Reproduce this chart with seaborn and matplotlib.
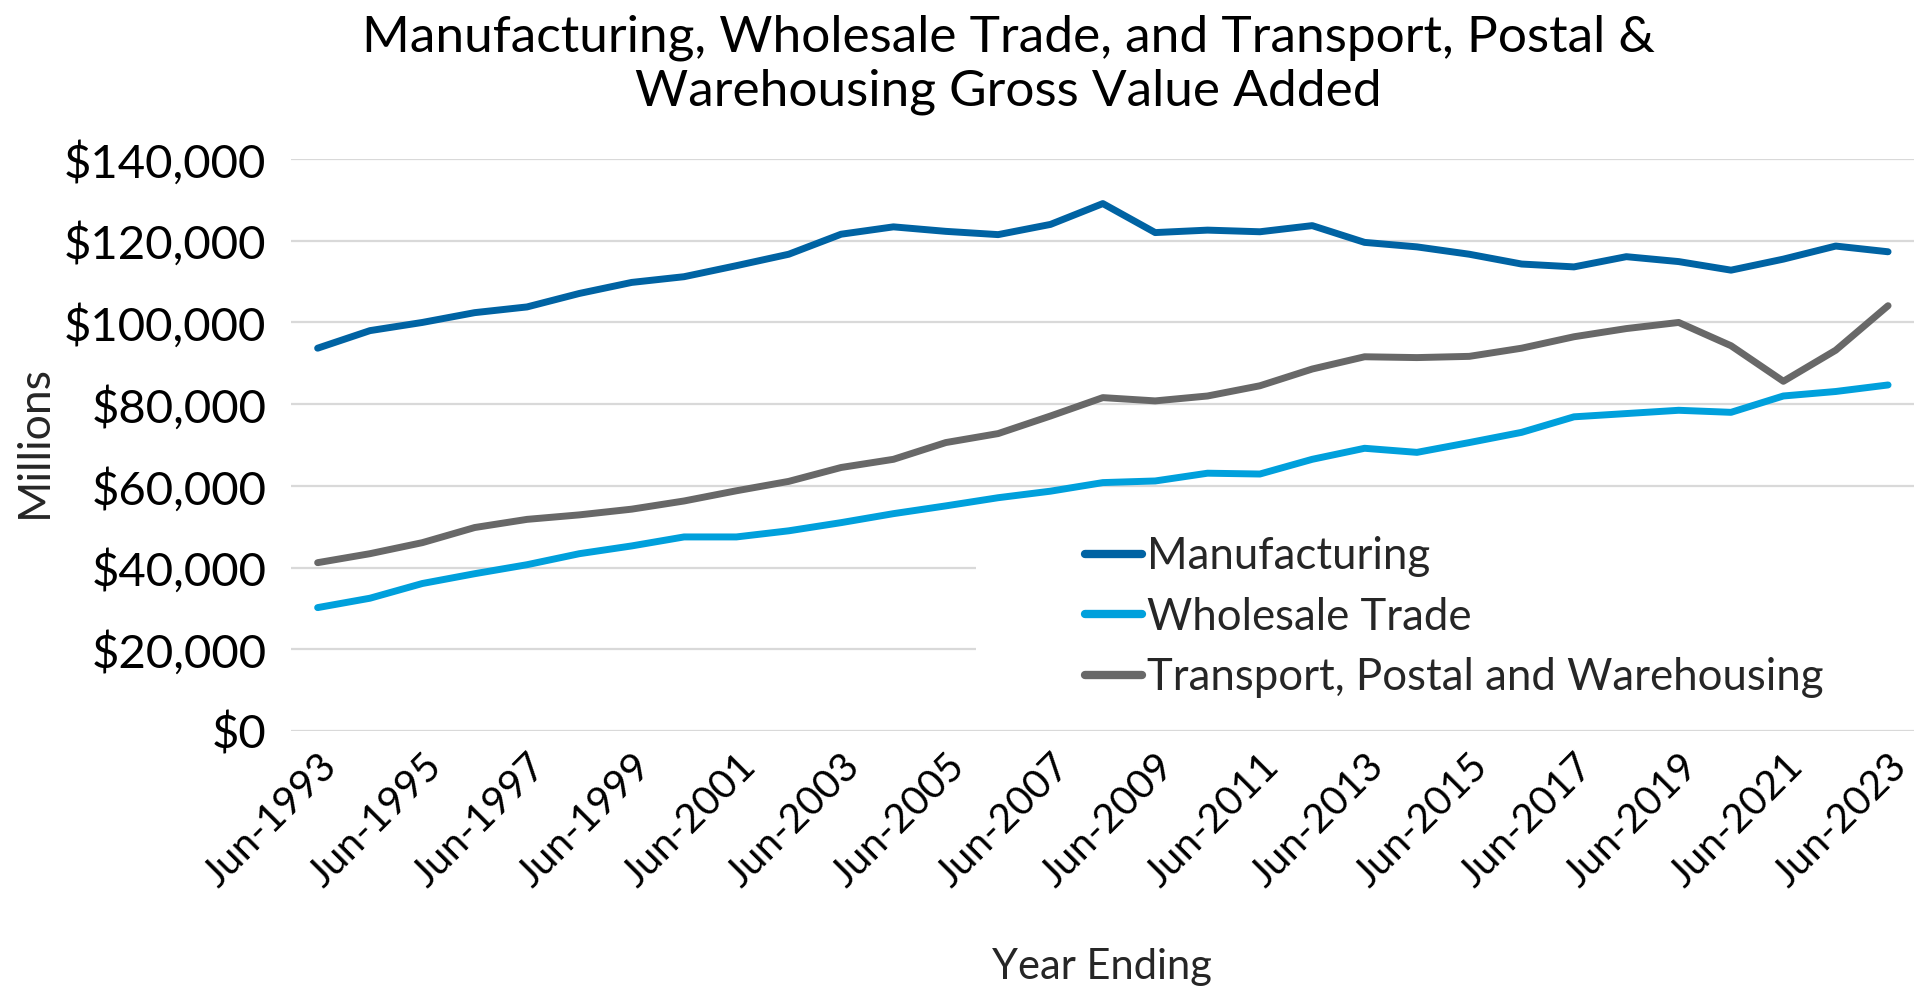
import matplotlib
matplotlib.use("Agg")
import matplotlib.pyplot as plt
import matplotlib.ticker as mticker
from matplotlib.patches import Rectangle
import seaborn as sns
import pandas as pd

years = list(range(1993, 2024))
manufacturing = [93700, 98000, 100000, 102400, 103800, 107100, 109800, 111200, 113900, 116700,
                 121600, 123400, 122300, 121500, 124000, 129100, 122000, 122600, 122200, 123700,
                 119600, 118500, 116700, 114300, 113600, 116100, 114900, 112800, 115500, 118700, 117300]
wholesale = [30200, 32500, 36100, 38500, 40700, 43400, 45300, 47500, 47500, 49000,
             51000, 53200, 55100, 57100, 58700, 60800, 61200, 63100, 62900, 66500,
             69200, 68200, 70600, 73100, 76900, 77700, 78500, 78000, 82000, 83100, 84700]
transport = [41200, 43400, 46100, 49800, 51800, 52900, 54300, 56300, 58800, 61100,
             64500, 66500, 70600, 72800, 77100, 81600, 80800, 82000, 84500, 88600,
             91600, 91400, 91700, 93700, 96500, 98500, 100000, 94300, 85600, 93200, 104100]
series_names = ["Manufacturing", "Wholesale Trade", "Transport, Postal and Warehousing"]
colors = ["#0063A3", "#00A0DC", "#686868"]
tick_years = list(range(1993, 2024, 2))
tick_labels = [f"Jun-{y}" for y in tick_years]
title = "Manufacturing, Wholesale Trade, and Transport, Postal &\nWarehousing Gross Value Added"

sns.set_theme(style="white")
plt.rcParams["font.family"] = ["Lato", "DejaVu Sans"]

df = pd.DataFrame({
    "idx": list(range(len(years))) * 3,
    "value": manufacturing + wholesale + transport,
    "series": sum([[n] * len(years) for n in series_names], []),
})

fig = plt.figure(figsize=(19.2, 9.94), dpi=100)
ax = fig.add_axes([0.1518, 0.2646, 0.997 - 0.1518, 0.840 - 0.2646])
ax.set_axisbelow(True)
ax.yaxis.grid(True, color="#D9D9D9", linewidth=1.6)
ax.xaxis.grid(False)

sns.lineplot(data=df, x="idx", y="value", hue="series", hue_order=series_names,
             palette=colors, linewidth=5, ax=ax, legend=True)
for ln in ax.get_lines():
    ln.set_solid_capstyle("round")
    ln.set_solid_joinstyle("round")

ax.set_xlim(-0.5, len(years) - 0.5)
ax.set_ylim(0, 140000)
ax.yaxis.set_major_locator(mticker.MultipleLocator(20000))
ax.yaxis.set_major_formatter(mticker.FuncFormatter(lambda v, p: f"${v:,.0f}"))
ax.set_xticks([years.index(y) for y in tick_years])
ax.set_xticklabels(tick_labels, rotation=45, ha="right", rotation_mode="anchor")
ax.tick_params(axis="both", length=0, colors="#000000")
ax.tick_params(axis="x", pad=12, labelsize=29)
ax.tick_params(axis="y", pad=18, labelsize=34)
for s in ax.spines.values():
    s.set_visible(False)
ax.set_xlabel("")
ax.set_ylabel("")

# white legend background box covering gridlines
ax.add_patch(Rectangle((976 / 1920, 1 - 712 / 994), (1916 - 976) / 1920, (712 - 520) / 994,
                       transform=fig.transFigure, facecolor="white", edgecolor="none", zorder=1.5))

handles, labels = ax.get_legend_handles_labels()
for h in handles:
    h.set_linewidth(6)
ax.legend(handles, labels, loc="center left", bbox_to_anchor=(1063 / 1920, 1 - 617 / 994),
          bbox_transform=fig.transFigure, frameon=False, fontsize=31.5, borderpad=0,
          handlelength=1.3, handletextpad=0.12, labelspacing=0.45)

fig.text(1008 / 1920, 1 - 65 / 994, title, ha="center", va="center", fontsize=37,
         linespacing=1.2, color="#000000")
fig.text(34 / 1920, 1 - 441 / 994, "Millions", rotation=90, ha="center", va="center", fontsize=32)
fig.text(1102 / 1920, 1 - 967 / 994, "Year Ending", ha="center", va="center", fontsize=30)

fig.savefig("out.png", dpi=100)
